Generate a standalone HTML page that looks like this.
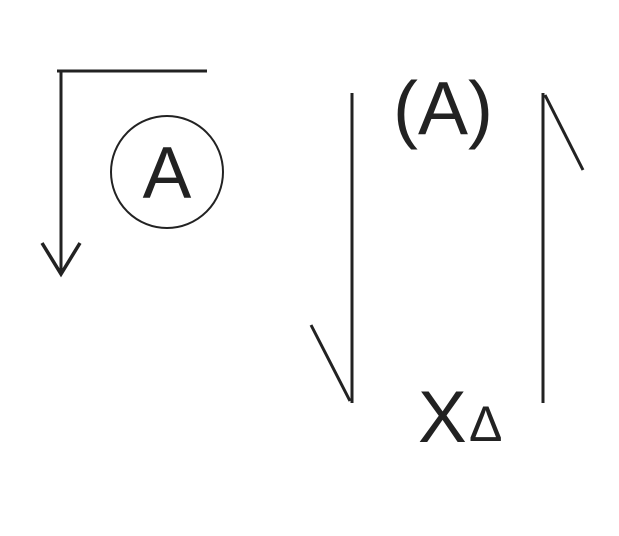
<!DOCTYPE html>
<html><head><style>html,body{margin:0;padding:0;background:#fff}</style></head>
<body>
<svg width="619" height="531" viewBox="0 0 619 531" xmlns="http://www.w3.org/2000/svg" font-family="Liberation Sans, sans-serif" fill="#222">
<g stroke="#222" stroke-width="3" fill="none">
<line x1="57" y1="71" x2="207" y2="71"/>
<line x1="61" y1="71" x2="61" y2="274"/>
<polyline points="42,243 61,274 80,243" stroke-width="3.5"/>
<circle cx="167" cy="172" r="56" stroke-width="2"/>
<line x1="352" y1="93" x2="352" y2="403"/>
<line x1="311" y1="325" x2="350" y2="401"/>
<line x1="543" y1="93" x2="543" y2="403"/>
<line x1="545" y1="95" x2="583" y2="170"/>
</g>
<text x="167" y="198" font-size="73" text-anchor="middle">A</text>
<text x="443" y="134" font-size="75" text-anchor="middle">(A)</text>
<text x="418" y="442" font-size="73">X</text>
<text x="469" y="441" font-size="50">Δ</text>
</svg>
</body></html>
